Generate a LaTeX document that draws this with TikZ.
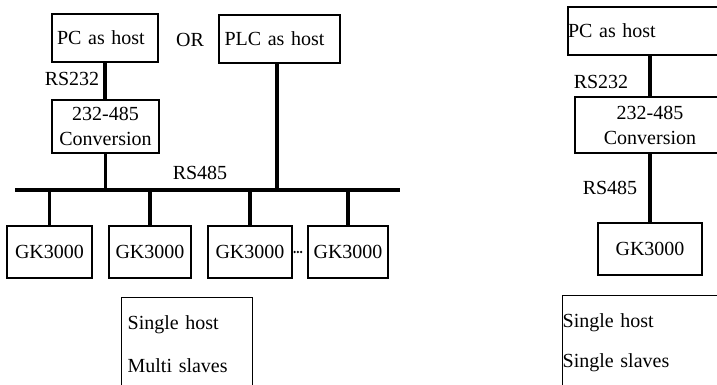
\documentclass[tikz,border=0pt]{standalone}
\usepackage{fontspec}
\setmainfont{Liberation Serif}
\usepackage{tikz}
\usetikzlibrary{positioning}

\begin{document}
\begin{tikzpicture}[
    x=0.5pt, y=-0.5pt,
    box/.style={
      rectangle, draw, line width=0.65pt, inner sep=0pt,
      font=\fontsize{10}{12.5}\selectfont, align=center
    },
    bus/.style={line width=1.6pt},
    lbl/.style={font=\fontsize{10}{12}\selectfont, inner sep=0pt}
  ]
  \clip (0,0) rectangle (717,385);

  % ── Left: single host, multi slaves ────────────────────────────
  \node[box, minimum width=53pt, minimum height=24pt,
        text width=48pt, align=left] (pc) at (105,38) {PC as host};
  \node[lbl] (or) at (190,40) {OR};
  \node[box, minimum width=60.5pt, minimum height=24pt,
        text width=55pt, align=left] (plc) at (279.5,39) {PLC as host};
  \node[box, minimum width=53.5pt, minimum height=26.5pt]
    (conv) at (105.5,126.5) {232-485\\Conversion};

  \node[lbl] (rs232) at (72,79)  {RS232};
  \node[lbl] (rs485) at (200,173) {RS485};

  \coordinate (busL) at (15,190);
  \coordinate (busR) at (400,190);

  \draw[bus] (pc.south) -- (pc.south |- conv.north);
  \draw[bus] (conv.south) -- (conv.south |- busL);
  \draw[bus] (plc.south) ++(-2.5,0) coordinate (plcdrop) -- (plcdrop |- busL);
  \draw[bus] (busL) -- (busR);

  % ── Slaves on the bus ──────────────────────────────────────────
  \node[box, minimum width=42.5pt, minimum height=26pt] (gkA) at (49.5,252) {GK3000};
  \node[box, minimum width=41pt,   minimum height=26pt] (gkB) at (150,252)  {GK3000};
  \node[box, minimum width=42pt,   minimum height=26pt] (gkC) at (250,252)  {GK3000};
  \node[box, minimum width=40pt,   minimum height=26pt] (gkD) at (348,252)  {GK3000};

  \draw[bus] (gkA.north) -- (gkA.north |- busL);
  \draw[bus] (gkB.north) -- (gkB.north |- busL);
  \draw[bus] (gkC.north) -- (gkC.north |- busL);
  \draw[bus] (gkD.north) -- (gkD.north |- busL);

  \draw[line width=1.3pt, line cap=round, dash pattern=on 0pt off 1.6pt,
        shorten <=1pt, shorten >=2.5pt]
    (gkC.east) -- (gkD.west);

  \node[box, anchor=north west, minimum width=65.5pt, text width=59.5pt,
        align=left, inner ysep=9pt] (multi) at (121,297)
    {Single host\\[9pt]Multi slaves\\[9pt]~};

  % ── Right: single host, single slave ───────────────────────────
  \node[box, minimum width=83pt, minimum height=24pt,
        text width=83pt, align=left] (pcB) at (651,31) {PC as host};
  \node[box, minimum width=75pt, minimum height=28pt]
    (convB) at (650,125) {232-485\\Conversion};
  \node[box, minimum width=52pt, minimum height=26pt] (gkE) at (650,249) {GK3000};

  \node[lbl] (rs232B) at (601,82)  {RS232};
  \node[lbl] (rs485B) at (610,188) {RS485};

  \draw[bus] (convB.north) -- (convB.north |- pcB.south);
  \draw[bus] (convB.south) -- (gkE.north);

  \node[box, anchor=north west, minimum width=90pt, text width=90pt,
        align=left, inner ysep=9pt] (single) at (562,295)
    {Single host\\[7.5pt]Single slaves\\[9pt]~};

\end{tikzpicture}
\end{document}
